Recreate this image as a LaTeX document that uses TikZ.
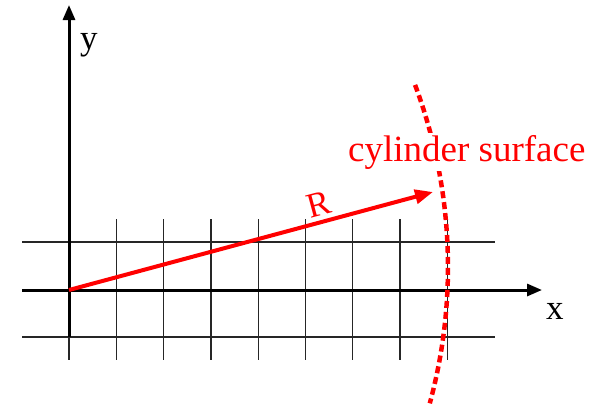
\documentclass[tikz,border=0pt]{standalone}
\usepackage{fontspec}
\setmainfont{Liberation Serif}
\usetikzlibrary{arrows.meta}

\begin{document}
\begin{tikzpicture}[x=1pt, y=-1pt,
            ax/.style={line width=3pt, -{Triangle[length=15pt, width=12pt]}},
            gridline/.style={line width=1.3pt, black!85},
            rvec/.style={line width=4pt, red, -{Triangle[length=18pt, width=14pt]}},
            surf/.style={line width=4.5pt, red, dash pattern=on 7pt off 4pt},
            lbl/.style={inner sep=0pt, anchor=base west, font=\fontsize{35}{40}\selectfont}]
          \useasboundingbox (0,0) rectangle (596,407);
          % grid
          \foreach \gy in {242, 290, 337}
            \draw[gridline] (22,\gy) -- (495,\gy);
          \foreach \k in {0,...,8}
            \draw[gridline] (69+47.3*\k,219) -- (69+47.3*\k,360);
          % axes
          \coordinate (O) at (69,290);
          \coordinate (ybot) at (69,337);
          \coordinate (ytop) at (69,5);
          \coordinate (xleft) at (22,290);
          \coordinate (xright) at (542,290);
          \draw[ax] (ybot) -- (ytop);
          \draw[ax] (xleft) -- (xright);
          \node[lbl] (ylab) at (80,49) {y};
          \node[lbl] (xlab) at (546,319) {x};
          % cylinder surface
          \draw[surf] (-72,267) ++(-20.5:520) arc[start angle=-20.5, end angle=15.2, radius=520];
          \node[lbl, fill=white, inner sep=2pt, text=red, font=\fontsize{37}{42}\selectfont]
            (surflab) at (346,161) {cylinder surface};
          % radius vector
          \coordinate (Rtip) at (433,192);
          \draw[rvec] (O) -- node[pos=0.7, sloped, above, text=red, inner sep=4pt,
                                  font=\fontsize{35}{40}\selectfont] (Rlab) {R} (Rtip);
        \end{tikzpicture}
\end{document}
